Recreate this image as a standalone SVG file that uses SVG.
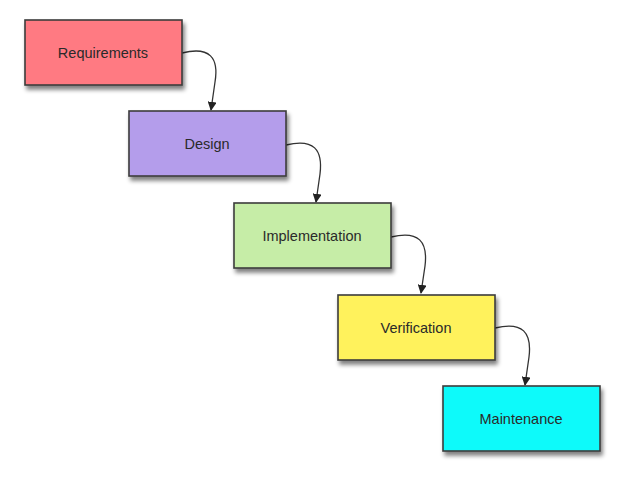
<svg xmlns="http://www.w3.org/2000/svg" width="624" height="480" viewBox="0 0 624 480">
<defs>
<filter id="sh" x="-10%" y="-10%" width="130%" height="140%">
<feGaussianBlur in="SourceAlpha" stdDeviation="2.2"/>
<feOffset dx="1.5" dy="3.5" result="b"/>
<feComponentTransfer><feFuncA type="linear" slope="0.5"/></feComponentTransfer>
<feMerge><feMergeNode/><feMergeNode in="SourceGraphic"/></feMerge>
</filter>
<marker id="ah" viewBox="0 0 10 10" refX="9" refY="5" markerWidth="9" markerHeight="9" orient="auto" markerUnits="userSpaceOnUse">
<path d="M0,0 L10,5 L0,10 z" fill="#222"/>
</marker>
</defs>
<style>
rect.box{stroke:#3c3c3c;stroke-width:1.6;filter:url(#sh)}
text{font-family:"Liberation Sans",Arial,sans-serif;font-size:14.5px;fill:#2a2a2a;text-anchor:middle;dominant-baseline:central}
.conn path{fill:none;stroke:#333;stroke-width:1.3;marker-end:url(#ah)}
</style>
<rect width="624" height="480" fill="#fff"/>
<g class="conn" id="connectors">
<path d="M182,53 C210,46 219,58 215,82 L211,110"/>
<path d="M286,145 C314,138 323,150 320,174 L316,202"/>
<path d="M391,237 C419,230 428,242 425,266 L421,293"/>
<path d="M495,328 C523,321 532,333 529,357 L525,385"/>
</g>
<g id="requirements"><rect class="box" x="25" y="20" width="157" height="65" fill="#FF7A82"/><text x="103" y="53">Requirements</text></g>
<g id="design"><rect class="box" x="129" y="111" width="157" height="65" fill="#B49DEB"/><text x="207" y="144">Design</text></g>
<g id="implementation"><rect class="box" x="234" y="203" width="157" height="65" fill="#C6EDA7"/><text x="312" y="236">Implementation</text></g>
<g id="verification"><rect class="box" x="338" y="295" width="157" height="65" fill="#FFF25C"/><text x="416" y="328">Verification</text></g>
<g id="maintenance"><rect class="box" x="443" y="386" width="157" height="65" fill="#10FAFA"/><text x="521" y="419">Maintenance</text></g>
</svg>
